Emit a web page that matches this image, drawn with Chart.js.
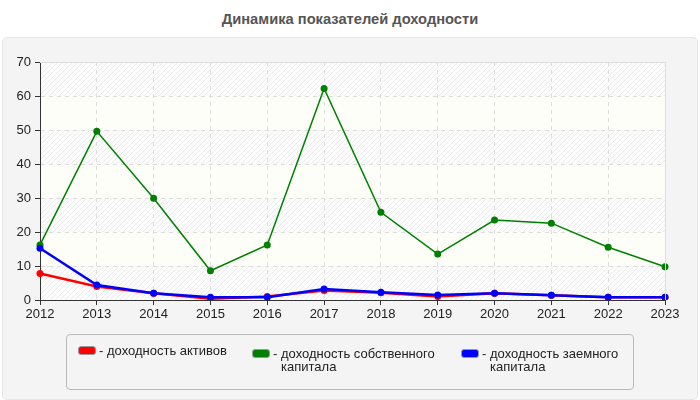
<!DOCTYPE html>
<html>
<head>
<meta charset="utf-8">
<script src="https://cdn.jsdelivr.net/npm/chart.js@4.4.1/dist/chart.umd.min.js"></script>
<style>
  body { margin: 0; background: #fff; font-family: "Liberation Sans", Arial, sans-serif; }
  #wrap { position: relative; width: 700px; height: 400px; overflow: hidden; }
  #title { position: absolute; left: 0; top: 11px; width: 700px; text-align: center; font-weight: bold; font-size: 14.7px; color: #555; }
  #panel { position: absolute; left: 2px; top: 37px; width: 694px; height: 361px; background: #f4f4f4; border: 1px solid #e6e6e6; border-radius: 5px; }
  #myChart { position: absolute; left: 0; top: 0; }
  #legend { position: absolute; left: 66px; top: 334px; width: 566px; height: 54px; border: 1px solid #bbb; border-radius: 4px; }
  .item { position: absolute; top: 9px; font-size: 13px; color: #222; line-height: 13px; }
  .sw { position: absolute; left: 0; top: 2px; width: 16px; height: 7px; border: 1px solid #999; border-radius: 3px; }
  .dash { position: absolute; left: 21px; top: 0; }
  .txt { position: absolute; left: 29px; top: 0; }
</style>
</head>
<body>
<div id="wrap">
  <div id="title">Динамика показателей доходности</div>
  <div id="panel"></div>
  <canvas id="myChart" width="700" height="400"></canvas>
  <div id="legend"></div>
</div>
<script>
const years = ["2012", "2013", "2014", "2015", "2016", "2017", "2018", "2019", "2020", "2021", "2022", "2023"];
const seriesNames = ["доходность активов", "доходность собственного капитала", "доходность заемного капитала"];
const assetsReturn = [7.8, 4.0, 2.0, 0.4, 1.0, 2.8, 2.1, 1.0, 2.0, 1.4, 0.8, 0.8];
const equityReturn = [16.2, 49.6, 29.9, 8.6, 16.2, 62.2, 25.8, 13.5, 23.5, 22.6, 15.5, 9.8];
const debtReturn = [15.2, 4.4, 2.0, 0.8, 0.8, 3.2, 2.3, 1.5, 2.0, 1.4, 0.8, 0.8];
const seriesColors = ["#ff0000", "#008000", "#0000ff"];
const yTicks = [0, 10, 20, 30, 40, 50, 60, 70];

// hatched bands behind the plot
const hatch = (() => {
    const c = document.createElement("canvas");
    c.width = 5; c.height = 5;
    const g = c.getContext("2d");
    g.fillStyle = "#fcfcfc";
    g.fillRect(0, 0, 5, 5);
    g.strokeStyle = "#ececec";
    g.lineWidth = 1;
    g.beginPath();
    g.moveTo(0, 5); g.lineTo(5, 0);
    g.moveTo(-1, 1); g.lineTo(1, -1);
    g.moveTo(4, 6); g.lineTo(6, 4);
    g.stroke();
    return g.createPattern(c, "repeat");
})();

const bandsPlugin = {
    id: "bands",
    beforeDraw(chart) {
        const { ctx, chartArea: a, scales } = chart;
        ctx.save();
        for (let i = 0; i < yTicks.length - 1; i++) {
            const y1 = scales.y.getPixelForValue(yTicks[i]);
            const y2 = scales.y.getPixelForValue(yTicks[i + 1]);
            ctx.fillStyle = i % 2 === 0 ? hatch : "#fdfef8";
            ctx.fillRect(a.left, y2, a.right - a.left, y1 - y2);
        }
        ctx.restore();
    },
    afterDraw(chart) {
        const { ctx, chartArea: a } = chart;
        ctx.save();
        ctx.strokeStyle = "#dcdcdc";
        ctx.lineWidth = 1;
        ctx.beginPath();
        ctx.moveTo(a.left, a.top + 0.5);
        ctx.lineTo(a.right + 0.5, a.top + 0.5);
        ctx.lineTo(a.right + 0.5, a.bottom);
        ctx.stroke();
        ctx.restore();
    }
};

const lineWidths = [2.5, 1.5, 2.5];
const orders = [3, 2, 1];
const allData = [assetsReturn, equityReturn, debtReturn];

Chart.defaults.font.family = '"Liberation Sans", Arial, sans-serif';
Chart.defaults.font.size = 13;
Chart.defaults.color = "#222";

const ctx = document.getElementById("myChart").getContext("2d");
const myChart = new Chart(ctx, {
    type: "line",
    data: {
        labels: years,
        datasets: seriesNames.map((name, i) => ({
            label: name,
            data: allData[i],
            borderColor: seriesColors[i],
            backgroundColor: seriesColors[i],
            borderWidth: lineWidths[i],
            pointRadius: 3.5,
            pointBorderWidth: 0,
            tension: 0,
            order: orders[i],
        })),
    },
    options: {
        responsive: false,
        animation: false,
        layout: { padding: { left: 0, right: 35, top: 62, bottom: 0 } },
        plugins: {
            legend: { display: false },
            tooltip: { enabled: false },
        },
        scales: {
            x: {
                offset: false,
                afterFit: (s) => { s.height = 100; },
                grid: { color: "#dddddd", tickColor: "#333", tickLength: 5, tickBorderDash: [] },
                border: { color: "#333", dash: [4, 4] },
                ticks: { padding: 2, maxRotation: 0, autoSkip: false },
            },
            y: {
                min: 0,
                max: 70,
                afterFit: (s) => { s.width = 40; },
                grid: { color: "#dddddd", tickColor: "#333", tickLength: 5, tickBorderDash: [] },
                border: { color: "#333", dash: [4, 4] },
                ticks: { stepSize: 10, padding: 4 },
            },
        },
    },
    plugins: [bandsPlugin],
});

// legend with wrapped labels
const legendBox = document.getElementById("legend");
const itemLeft = [11, 185, 394];
const itemWidth = [160, 175, 150];
const itemTop = [9, 12, 12];
seriesNames.forEach((name, i) => {
    const el = document.createElement("div");
    el.className = "item";
    el.style.left = itemLeft[i] + "px";
    el.style.top = itemTop[i] + "px";
    el.innerHTML = '<span class="sw" style="background:' + seriesColors[i] + '"></span>' +
        '<span class="dash">-</span>' +
        '<span class="txt" style="width:' + itemWidth[i] + 'px">' + name + '</span>';
    legendBox.appendChild(el);
});
</script>
</body>
</html>
